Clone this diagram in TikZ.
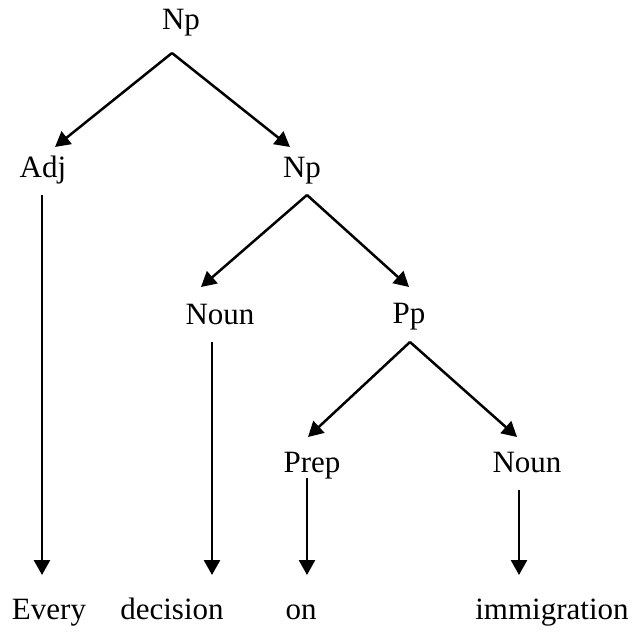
\documentclass[tikz,border=0pt]{standalone}
\usepackage{fontspec}
\setmainfont{Liberation Serif}
\usetikzlibrary{arrows.meta}
\begin{document}
\begin{tikzpicture}[x=1pt,y=-1pt,
  lbl/.style={anchor=base,inner sep=0pt,font=\fontsize{31}{36}\selectfont},
  arr/.style={line width=2.5pt,-{Triangle[length=15pt,width=16pt]}}]
\useasboundingbox (0,0) rectangle (636,632);
\node[lbl] (np1) at (181,29) {Np};
\node[lbl] (adj) at (43,177) {Adj};
\node[lbl] (np2) at (302,177) {Np};
\node[lbl] (noun1) at (220,324) {Noun};
\node[lbl] (pp) at (409,323) {Pp};
\node[lbl] (prep) at (312,472) {Prep};
\node[lbl] (noun2) at (527,472) {Noun};
\node[lbl] (every) at (49,619) {Every};
\node[lbl] (decision) at (172,619) {decision};
\node[lbl] (on) at (301,619) {on};
\node[lbl] (immig) at (552,619) {immigration};
% top Np
\draw[arr] ([shift={(-9,24)}]np1.base) -- ([shift={(12,-30)}]adj.base);
\draw[arr] ([shift={(-9,24)}]np1.base) -- ([shift={(-12,-30)}]np2.base);
% mid Np
\draw[arr] ([shift={(5,18)}]np2.base) -- ([shift={(-19,-37)}]noun1.base);
\draw[arr] ([shift={(5,18)}]np2.base) -- ([shift={(0,-36)}]pp.base);
% Pp
\draw[arr] ([shift={(1,19)}]pp.base) -- ([shift={(-4,-35)}]prep.base);
\draw[arr] ([shift={(1,19)}]pp.base) -- ([shift={(-10,-35)}]noun2.base);
% verticals
\draw[arr] ([shift={(-1,18)}]adj.base) -- ([shift={(-7,-44)}]every.base);
\draw[arr] ([shift={(-8,18)}]noun1.base) -- ([shift={(40,-44)}]decision.base);
\draw[arr] ([shift={(-5,6)}]prep.base) -- ([shift={(6,-44)}]on.base);
\draw[arr] ([shift={(-8,18)}]noun2.base) -- ([shift={(-33,-44)}]immig.base);
\end{tikzpicture}
\end{document}
